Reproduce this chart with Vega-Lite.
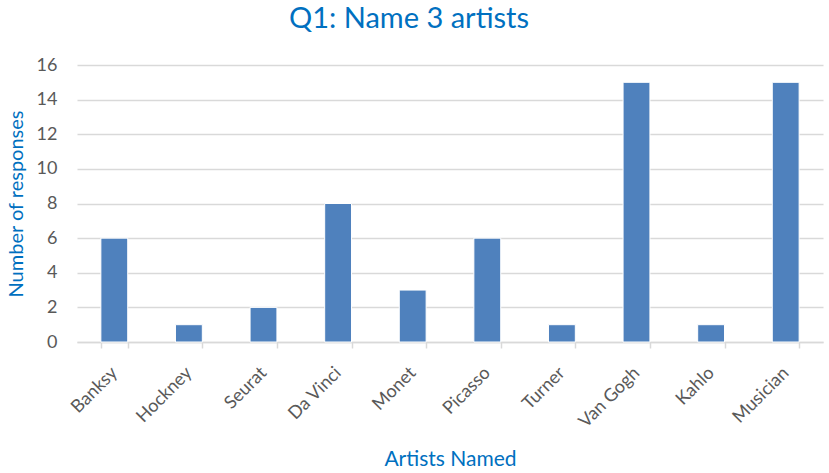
{
  "$schema": "https://vega.github.io/schema/vega-lite/v6.json",
  "autosize": "none",
  "width": 746,
  "height": 277,
  "padding": {"left": 77, "top": 65, "right": 6, "bottom": 131},
  "background": "white",
  "title": {
    "text": "Q1: Name 3 artists",
    "anchor": "middle",
    "frame": "group",
    "fontSize": 29,
    "font": "Lato",
    "fontWeight": "normal",
    "color": "#0070C0",
    "dx": -41,
    "offset": 22
  },
  "data": {
    "values": [
      {"artist": "Banksy", "count": 6},
      {"artist": "Hockney", "count": 1},
      {"artist": "Seurat", "count": 2},
      {"artist": "Da Vinci", "count": 8},
      {"artist": "Monet", "count": 3},
      {"artist": "Picasso", "count": 6},
      {"artist": "Turner", "count": 1},
      {"artist": "Van Gogh", "count": 15},
      {"artist": "Kahlo", "count": 1},
      {"artist": "Musician", "count": 15}
    ]
  },
  "mark": {"type": "bar", "color": "#4F81BD", "stroke": "white", "strokeWidth": 1},
  "encoding": {
    "x": {
      "field": "artist",
      "type": "nominal",
      "sort": null,
      "scale": {"paddingInner": 0.64, "paddingOuter": 0.32},
      "axis": {
        "title": "Artists Named",
        "titleFont": "Lato",
        "titleFontSize": 21,
        "titleFontWeight": "normal",
        "titleColor": "#0070C0",
        "titlePadding": 18,
        "labelAngle": -45,
        "labelAlign": "right",
        "labelBaseline": "middle",
        "labelFont": "Lato",
        "labelFontSize": 18,
        "labelColor": "#595959",
        "labelPadding": 22,
        "tickBand": "extent",
        "tickColor": "#D9D9D9",
        "tickSize": 6,
        "tickWidth": 1.5,
        "domainColor": "#D9D9D9",
        "domainWidth": 1.5
      }
    },
    "y": {
      "field": "count",
      "type": "quantitative",
      "scale": {"domain": [0, 16]},
      "axis": {
        "title": "Number of responses",
        "titleFont": "Lato",
        "titleFontSize": 20,
        "titleFontWeight": "normal",
        "titleColor": "#0070C0",
        "titlePadding": 10,
        "values": [0, 2, 4, 6, 8, 10, 12, 14, 16],
        "labelFont": "Lato",
        "labelFontSize": 18,
        "labelColor": "#595959",
        "labelPadding": 20,
        "domain": false,
        "ticks": false,
        "gridColor": "#D9D9D9",
        "gridWidth": 1.5
      }
    }
  },
  "config": {"view": {"stroke": null}}
}
